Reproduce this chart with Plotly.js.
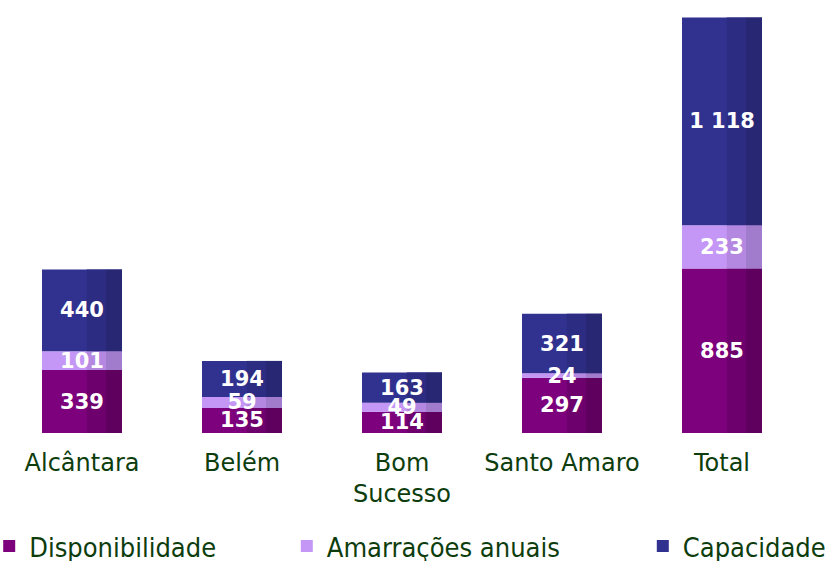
<!DOCTYPE html>
<html>
<head>
<meta charset="utf-8">
<script src="https://cdn.plot.ly/plotly-3.0.1.min.js"></script>
<style>html,body{margin:0;padding:0;background:#fff;}#chart{width:838px;height:561px;}</style>
</head>
<body>
<div id="chart"></div>
<script>
const categories = ["Alcântara", "Belém", "Bom<br>Sucesso", "Santo Amaro", "Total"];
const disponibilidade = [339, 135, 114, 297, 885];
const amarracoes = [101, 59, 49, 24, 233];
const capacidade = [440, 194, 163, 321, 1118];
const seriesNames = ["Disponibilidade", "Amarrações anuais", "Capacidade"];

const series = [disponibilidade, amarracoes, capacidade];
const colors = ["#7d007d", "#c496f5", "#31318f"];
const midColors = ["#6e006e", "#b488e0", "#2c2c82"];
const darkColors = ["#5f005f", "#a27ccc", "#272773"];
const legends = ["legend", "legend2", "legend3"];
const labelFont = {family: "DejaVu Sans, Verdana, sans-serif", size: 21, color: "#ffffff", weight: "bold"};

// stacking bases from the data
const bases = series.map((s, i) => s.map((_, j) => {
  let b = 0; for (let k = 0; k < i; k++) b += series[k][j]; return b;
}));

const data = [];
series.forEach((vals, i) => {
  data.push({type: "bar", x: categories, y: vals, base: bases[i], name: seriesNames[i],
    width: 0.5, marker: {color: colors[i], line: {width: 0}}, legend: legends[i], hoverinfo: "none"});
});
series.forEach((vals, i) => {
  data.push({type: "bar", x: categories, y: vals, base: bases[i], showlegend: false,
    width: 0.12, offset: 0.03, marker: {color: midColors[i], line: {width: 0}}, hoverinfo: "none"});
});
series.forEach((vals, i) => {
  data.push({type: "bar", x: categories, y: vals, base: bases[i], showlegend: false,
    width: 0.1, offset: 0.15, marker: {color: darkColors[i], line: {width: 0}}, hoverinfo: "none"});
});
series.forEach((vals, i) => {
  data.push({type: "bar", x: categories, y: vals, base: bases[i], showlegend: false,
    width: 0.5, marker: {color: "rgba(0,0,0,0)", line: {width: 0}},
    texttemplate: "<b>%{y:,.0f}</b>", textposition: "inside", insidetextanchor: "middle",
    textangle: 0, constraintext: "none", textfont: labelFont, hoverinfo: "none"});
});

const legFont = {family: "DejaVu Sans Condensed, DejaVu Sans, sans-serif", size: 27, color: "#0d3d0d"};
function leg(x) {
  return {x: x, y: -0.262, xanchor: "left", yanchor: "middle", orientation: "h",
    font: legFont, bgcolor: "rgba(0,0,0,0)", itemclick: false, itemdoubleclick: false};
}

const layout = {
  width: 838, height: 561,
  margin: {l: 2, r: 36, t: 0, b: 128, autoexpand: false},
  paper_bgcolor: "#ffffff", plot_bgcolor: "#ffffff",
  barmode: "overlay",
  separators: ", ",
  showlegend: true,
  legend: leg(-0.016),
  legend2: leg(0.356),
  legend3: leg(0.801),
  xaxis: {
    type: "category", showgrid: false, zeroline: false, showline: false, ticks: "",
    tickfont: {family: "DejaVu Sans, Verdana, sans-serif", size: 24, color: "#0d3d0d"},
    ticklabelstandoff: 13, automargin: false, fixedrange: true
  },
  yaxis: {range: [0, 2330], visible: false, showgrid: false, zeroline: false, fixedrange: true}
};

Plotly.newPlot("chart", data, layout, {displayModeBar: false, staticPlot: true});
</script>
</body>
</html>
